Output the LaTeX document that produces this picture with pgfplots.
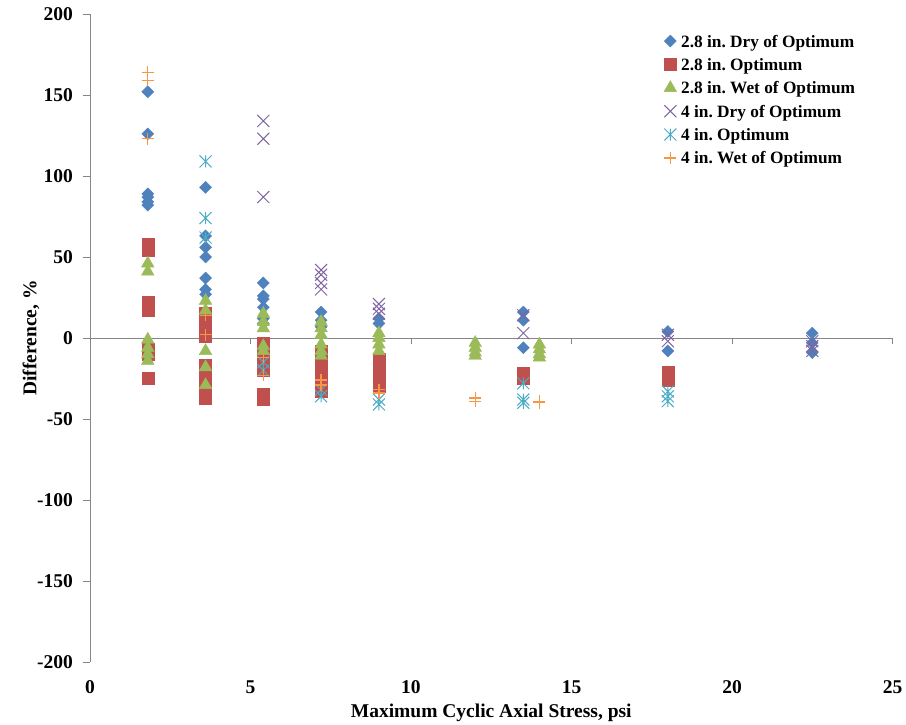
\documentclass[border=0pt]{standalone}
\usepackage{fontspec}
\setmainfont{Liberation Serif}
\usepackage{pgfplots}
\pgfplotsset{compat=1.18}
\definecolor{cblue}{HTML}{4F81BD}
\definecolor{cred}{HTML}{C0504D}
\definecolor{cgreen}{HTML}{9BBB59}
\definecolor{cpurple}{HTML}{8064A2}
\definecolor{ccyan}{HTML}{4BACC6}
\definecolor{corange}{HTML}{F79646}
\definecolor{axgray}{HTML}{868686}
\pgfdeclareplotmark{xast}{%
 \pgfpathmoveto{\pgfqpoint{-\pgfplotmarksize}{-\pgfplotmarksize}}\pgfpathlineto{\pgfqpoint{\pgfplotmarksize}{\pgfplotmarksize}}%
 \pgfpathmoveto{\pgfqpoint{-\pgfplotmarksize}{\pgfplotmarksize}}\pgfpathlineto{\pgfqpoint{\pgfplotmarksize}{-\pgfplotmarksize}}%
 \pgfpathmoveto{\pgfqpoint{0pt}{-\pgfplotmarksize}}\pgfpathlineto{\pgfqpoint{0pt}{\pgfplotmarksize}}%
 \pgfusepathqstroke}
\begin{document}
\frenchspacing
\begin{tikzpicture}
\begin{axis}[
  at={(0,0)}, anchor=south west,
  scale only axis, width=802.5pt, height=648pt,
  xmin=0, xmax=25, ymin=-200, ymax=200,
  clip=false,
  axis y line*=left, axis x line*=bottom,
  x axis line style={draw=none},
  y axis line style={draw=axgray, line width=0.8pt},
  xtick={0,5,...,25}, ytick={-200,-150,...,200},
  xtick style={draw=none},
  ytick style={draw=axgray, line width=0.8pt},
  tick align=outside, major tick length=7pt,
  /pgf/number format/assume math mode=true,
  ticklabel style={font=\fontsize{19.5}{22}\selectfont\bfseries},
  yticklabel style={anchor=east, inner sep=0pt, xshift=-10pt},
  xticklabel style={anchor=base, inner sep=0pt, yshift=-24.5pt},
  xlabel={Maximum Cyclic Axial Stress, psi},
  ylabel={Difference, \%},
  label style={font=\fontsize{19.5}{22}\selectfont\bfseries},
  xlabel style={at={(axis description cs:0.5,-0.0864)}, anchor=base},
  ylabel style={at={(axis description cs:-0.0667,0.5)}, anchor=base},
  legend style={at={(axis description cs:0.7153,0.969)}, anchor=north west,
    draw=none, fill=none, inner sep=0pt, outer sep=0pt,
    font=\fontsize{17.3}{20}\selectfont\bfseries,
    nodes={inner sep=1pt, text height=12pt, text depth=4pt},
    row sep=5.3pt, column sep=3.5pt, cells={anchor=west}},
  legend image code/.code={\draw[yshift=2pt,mark repeat=2,mark phase=2,#1] plot coordinates {(0pt,0pt) (6pt,0pt) (12pt,0pt)};},
]
\addplot[only marks, mark=square*, mark size=4.25pt, mark options={rotate=45}, color=cblue] coordinates {
(1.8,152) (1.8,126) (1.8,89) (1.8,87) (1.8,84) (1.8,82)
(3.6,93) (3.6,63) (3.6,56) (3.6,50) (3.6,37) (3.6,30) (3.6,27)
(5.4,34) (5.4,26) (5.4,24) (5.4,19) (5.4,12) (5.4,9)
(7.2,16) (7.2,11) (7.2,7)
(9,12) (9,9)
(13.5,16) (13.5,11) (13.5,-6)
(18,4) (18,-8)
(22.5,3) (22.5,-3) (22.5,-9)
};
\addlegendentry{2.8 in. Dry of Optimum}
\addplot[only marks, mark=square*, mark size=6pt, color=cred] coordinates {
(1.8,58) (1.8,54) (1.8,22) (1.8,17) (1.8,-7) (1.8,-10) (1.8,-25)
(3.6,15) (3.6,10) (3.6,5) (3.6,1) (3.6,-17) (3.6,-24) (3.6,-31) (3.6,-37)
(5.4,-3) (5.4,-9) (5.4,-15) (5.4,-20) (5.4,-35) (5.4,-38)
(7.2,-8) (7.2,-13) (7.2,-19) (7.2,-25) (7.2,-30) (7.2,-33)
(9,-13) (9,-18) (9,-24) (9,-30)
(13.5,-22) (13.5,-25)
(18,-21) (18,-26)
};
\addlegendentry{2.8 in. Optimum}
\addplot[only marks, mark=triangle*, mark size=7.3pt, color=cgreen] coordinates {
(1.8,46) (1.8,41) (1.8,-1) (1.8,-6) (1.8,-10) (1.8,-14)
(3.6,23) (3.6,17) (3.6,-8) (3.6,-18) (3.6,-29)
(5.4,15) (5.4,10) (5.4,6) (5.4,-5) (5.4,-8)
(7.2,10) (7.2,6) (7.2,2) (7.2,-4) (7.2,-8) (7.2,-11)
(9,3) (9,0) (9,-4) (9,-8)
(12,-3) (12,-6) (12,-9) (12,-11)
(14,-4) (14,-7) (14,-10) (14,-12)
};
\addlegendentry{2.8 in. Wet of Optimum}
\addplot[only marks, mark=x, mark size=8.5pt, color=cpurple, line width=1pt] coordinates {
(5.4,134) (5.4,123) (5.4,87)
(7.2,42) (7.2,39) (7.2,34) (7.2,30)
(9,21) (9,18) (9,15)
(13.5,14) (13.5,3)
(18,2) (18,-2)
(22.5,-2) (22.5,-5) (22.5,-8)
};
\addlegendentry{4 in. Dry of Optimum}
\addplot[only marks, mark=xast, mark size=6pt, color=ccyan, line width=1pt] coordinates {
(3.6,109) (3.6,74) (3.6,62)
(5.4,-15) (5.4,-20)
(7.2,-32) (7.2,-36)
(9,-38) (9,-41)
(13.5,-28) (13.5,-38) (13.5,-40)
(18,-33) (18,-36) (18,-39)
};
\addlegendentry{4 in. Optimum}
\addplot[only marks, mark=+, mark size=6pt, color=corange, line width=1.3pt] coordinates {
(1.8,164) (1.8,159) (1.8,123)
(3.6,14) (3.6,2)
(5.4,-12) (5.4,-23)
(7.2,-26) (7.2,-29)
(9,-32) (9,-34)
(12,-37) (12,-39)
(14,-39) (14,-40)
};
\addlegendentry{4 in. Wet of Optimum}
\draw[axgray, line width=0.8pt] (axis cs:0,0) -- (axis cs:25,0);
\pgfplotsinvokeforeach{5,10,15,20,25}{\draw[axgray, line width=0.8pt] (axis cs:#1,0) -- ([yshift=-6pt]axis cs:#1,0);}
\end{axis}
\pgfresetboundingbox
\path (-90pt,-63pt) rectangle (816pt,662pt);
\end{tikzpicture}
\end{document}
